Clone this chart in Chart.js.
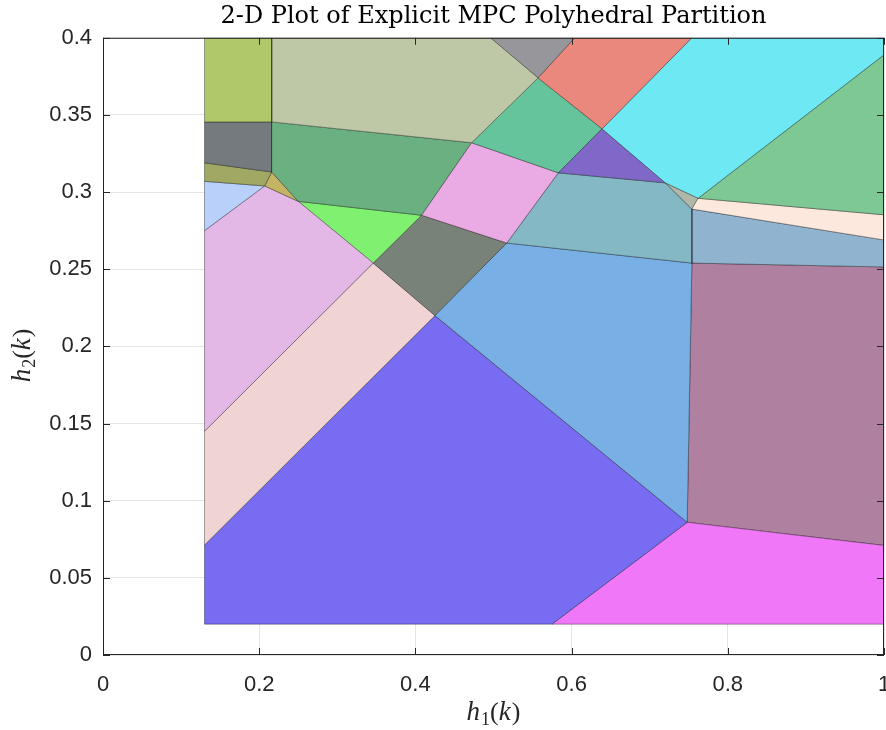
<!DOCTYPE html>
<html>
<head>
<meta charset="utf-8">
<script src="https://cdn.jsdelivr.net/npm/chart.js@4.4.0/dist/chart.umd.min.js"></script>
<style>
  html, body { margin: 0; padding: 0; background: #fff; }
</style>
</head>
<body>
<canvas id="graph" width="886" height="730"></canvas>
<script>
// Graduations des axes
const xTicks = [0, 0.2, 0.4, 0.6, 0.8, 1];
const xTickLabels = ['0', '0.2', '0.4', '0.6', '0.8', '1'];
const yTicks = [0, 0.05, 0.1, 0.15, 0.2, 0.25, 0.3, 0.35, 0.4];
const yTickLabels = ['0', '0.05', '0.1', '0.15', '0.2', '0.25', '0.3', '0.35', '0.4'];

// Libellés des axes (h1(k), h2(k)) découpés pour le rendu mathématique
const xLabel = [['h', 'i'], ['1', 's'], ['(', 'n'], ['k', 'i'], [')', 'n']];
const yLabel = [['h', 'i'], ['2', 's'], ['(', 'n'], ['k', 'i'], [')', 'n']];

// Sommets des régions (h1, h2)
const rOliveTop   = [[0.13, 0.4], [0.216, 0.4], [0.216, 0.3455], [0.13, 0.3455]];
const rSage       = [[0.216, 0.4], [0.496, 0.4], [0.557, 0.374], [0.472, 0.332], [0.216, 0.3455]];
const rGreyTop    = [[0.496, 0.4], [0.604, 0.4], [0.557, 0.374]];
const rSalmon     = [[0.604, 0.4], [0.754, 0.4], [0.639, 0.341], [0.557, 0.374]];
const rCyan       = [[0.754, 0.4], [1, 0.4], [1, 0.389], [0.762, 0.296], [0.720, 0.306], [0.639, 0.341]];
const rGreenRight = [[0.762, 0.296], [1, 0.389], [1, 0.2853]];
const rPeach      = [[0.762, 0.296], [1, 0.2853], [1, 0.269], [0.754, 0.289]];
const rSmallGrey  = [[0.720, 0.306], [0.762, 0.296], [0.754, 0.289]];
const rPurple     = [[0.639, 0.341], [0.720, 0.306], [0.583, 0.3125]];
const rTealGreen  = [[0.557, 0.374], [0.639, 0.341], [0.583, 0.3125], [0.472, 0.332]];
const rPink       = [[0.472, 0.332], [0.583, 0.3125], [0.517, 0.267], [0.408, 0.285]];
const rTealGrey   = [[0.583, 0.3125], [0.720, 0.306], [0.754, 0.289], [0.754, 0.254], [0.517, 0.267]];
const rSteel      = [[0.754, 0.289], [1, 0.269], [1, 0.2515], [0.754, 0.254]];
const rDarkGreen  = [[0.216, 0.3455], [0.472, 0.332], [0.408, 0.285], [0.250, 0.294], [0.216, 0.313]];
const rSlate      = [[0.13, 0.3455], [0.216, 0.3455], [0.216, 0.313], [0.13, 0.319]];
const rOlive      = [[0.13, 0.319], [0.216, 0.313], [0.207, 0.304], [0.13, 0.307]];
const rYellow     = [[0.216, 0.313], [0.250, 0.294], [0.207, 0.304]];
const rLightBlue  = [[0.13, 0.307], [0.207, 0.304], [0.13, 0.275]];
const rLavender   = [[0.13, 0.275], [0.207, 0.304], [0.250, 0.294], [0.346, 0.254], [0.13, 0.145]];
const rLime       = [[0.250, 0.294], [0.408, 0.285], [0.346, 0.254]];
const rDarkGrey   = [[0.408, 0.285], [0.517, 0.267], [0.425, 0.220], [0.346, 0.254]];
const rLightPink  = [[0.13, 0.145], [0.346, 0.254], [0.425, 0.220], [0.13, 0.0713]];
const rSky        = [[0.517, 0.267], [0.754, 0.254], [0.748, 0.086], [0.425, 0.220]];
const rViolet     = [[0.13, 0.0713], [0.425, 0.220], [0.748, 0.086], [0.575, 0.02], [0.13, 0.02]];
const rMagenta    = [[0.575, 0.02], [0.748, 0.086], [1, 0.071], [1, 0.02]];
const rMauve      = [[0.754, 0.254], [1, 0.2515], [1, 0.071], [0.748, 0.086]];

const regions = [rOliveTop, rSage, rGreyTop, rSalmon, rCyan, rGreenRight, rPeach, rSmallGrey,
  rPurple, rTealGreen, rPink, rTealGrey, rSteel, rDarkGreen, rSlate, rOlive, rYellow,
  rLightBlue, rLavender, rLime, rDarkGrey, rLightPink, rSky, rViolet, rMagenta, rMauve];

// Couleurs de remplissage, dans le même ordre
const couleurs = ['#b0c86a', '#bec8a6', '#96969b', '#ea887e', '#6ee8f2', '#7ec894', '#fce8dc', '#b0b8a8',
  '#8068c8', '#66c49c', '#eaaae4', '#84b8c4', '#90b4d0', '#6ab080', '#747a7e', '#a0a864', '#c4b464',
  '#b8d0fa', '#e4b8e6', '#80f070', '#788278', '#f0d4d4', '#78b0e6', '#786cf2', '#f078f8', '#b080a0'];

// Construit un jeu de données fermé pour chaque polygone
const datasets = regions.map((poly, i) => {
  const pts = poly.map(p => ({x: p[0], y: p[1]}));
  pts.push({x: poly[0][0], y: poly[0][1]});
  return {
    data: pts,
    showLine: true,
    fill: 'shape',
    backgroundColor: couleurs[i],
    borderColor: 'rgba(0,0,0,0.5)',
    borderWidth: 0.7,
    pointRadius: 0,
    tension: 0
  };
});

// Écrit un libellé mathématique : italique, chiffres en indice
function ecrireMath(ctx, morceaux, cx, cy) {
  const police = s => s === 'i' ? 'italic 27px "Liberation Serif"'
    : s === 's' ? '18px "Liberation Serif"' : '26px "Liberation Serif"';
  let total = 0;
  morceaux.forEach(([t, s]) => { ctx.font = police(s); total += ctx.measureText(t).width + (s === 'i' ? 1 : 0); });
  let x = cx - total / 2;
  ctx.textBaseline = 'alphabetic';
  ctx.textAlign = 'left';
  morceaux.forEach(([t, s]) => {
    ctx.font = police(s);
    ctx.fillText(t, x, s === 's' ? cy + 5 : cy);
    x += ctx.measureText(t).width + (s === 'i' ? 1 : 0);
  });
}

// Cadre, graduations vers l'intérieur et libellés d'axes, façon MATLAB
const cadre = {
  id: 'cadre',
  afterDraw(chart) {
    const {ctx, chartArea: a, scales} = chart;
    ctx.save();
    ctx.strokeStyle = '#262626';
    ctx.lineWidth = 1;
    ctx.strokeRect(a.left + 0.5, a.top + 0.5, a.right - a.left - 1, a.bottom - a.top - 1);
    ctx.beginPath();
    xTicks.forEach(v => {
      const px = Math.round(scales.x.getPixelForValue(v)) + 0.5;
      ctx.moveTo(px, a.bottom); ctx.lineTo(px, a.bottom - 7);
      ctx.moveTo(px, a.top); ctx.lineTo(px, a.top + 7);
    });
    yTicks.forEach(v => {
      const py = Math.round(scales.y.getPixelForValue(v)) + 0.5;
      ctx.moveTo(a.left, py); ctx.lineTo(a.left + 7, py);
      ctx.moveTo(a.right, py); ctx.lineTo(a.right - 7, py);
    });
    ctx.stroke();
    ctx.fillStyle = '#262626';
    ecrireMath(ctx, xLabel, (a.left + a.right) / 2, 720);
    ctx.translate(30, (a.top + a.bottom) / 2 + 9);
    ctx.rotate(-Math.PI / 2);
    ecrireMath(ctx, yLabel, 0, 0);
    ctx.restore();
  }
};

const ctx = document.getElementById('graph').getContext('2d');
new Chart(ctx, {
  type: 'scatter',
  data: {datasets: datasets},
  options: {
    responsive: false,
    animation: false,
    layout: {padding: {left: 0, right: 2, top: 0, bottom: 0}},
    plugins: {
      legend: {display: false},
      tooltip: {enabled: false},
      title: {
        display: true,
        fullSize: false,
        text: '2-D Plot of Explicit MPC Polyhedral Partition',
        color: '#000',
        font: {family: 'DejaVu Serif', size: 24, weight: 'normal'},
        padding: {top: 2, bottom: 7}
      }
    },
    scales: {
      x: {
        type: 'linear',
        min: 0, max: 1,
        z: 1,
        afterBuildTicks: axis => { axis.ticks = xTicks.map(v => ({value: v})); },
        afterFit: scale => { scale.height = 75; scale.paddingLeft = 0; scale.paddingRight = 0; },
        grid: {color: 'rgba(0,0,0,0.1)', drawTicks: false},
        border: {display: false},
        ticks: {
          color: '#262626', padding: 17, maxRotation: 0,
          font: {family: 'Liberation Sans', size: 22},
          callback: (v, i) => xTickLabels[i]
        }
      },
      y: {
        type: 'linear',
        min: 0, max: 0.4,
        z: 1,
        afterBuildTicks: axis => { axis.ticks = yTicks.map(v => ({value: v})); },
        afterFit: scale => { scale.width = 103; },
        grid: {color: 'rgba(0,0,0,0.1)', drawTicks: false},
        border: {display: false},
        ticks: {
          color: '#262626', padding: 11,
          font: {family: 'Liberation Sans', size: 22},
          callback: (v, i) => yTickLabels[i]
        }
      }
    }
  },
  plugins: [cadre]
});
</script>
</body>
</html>
